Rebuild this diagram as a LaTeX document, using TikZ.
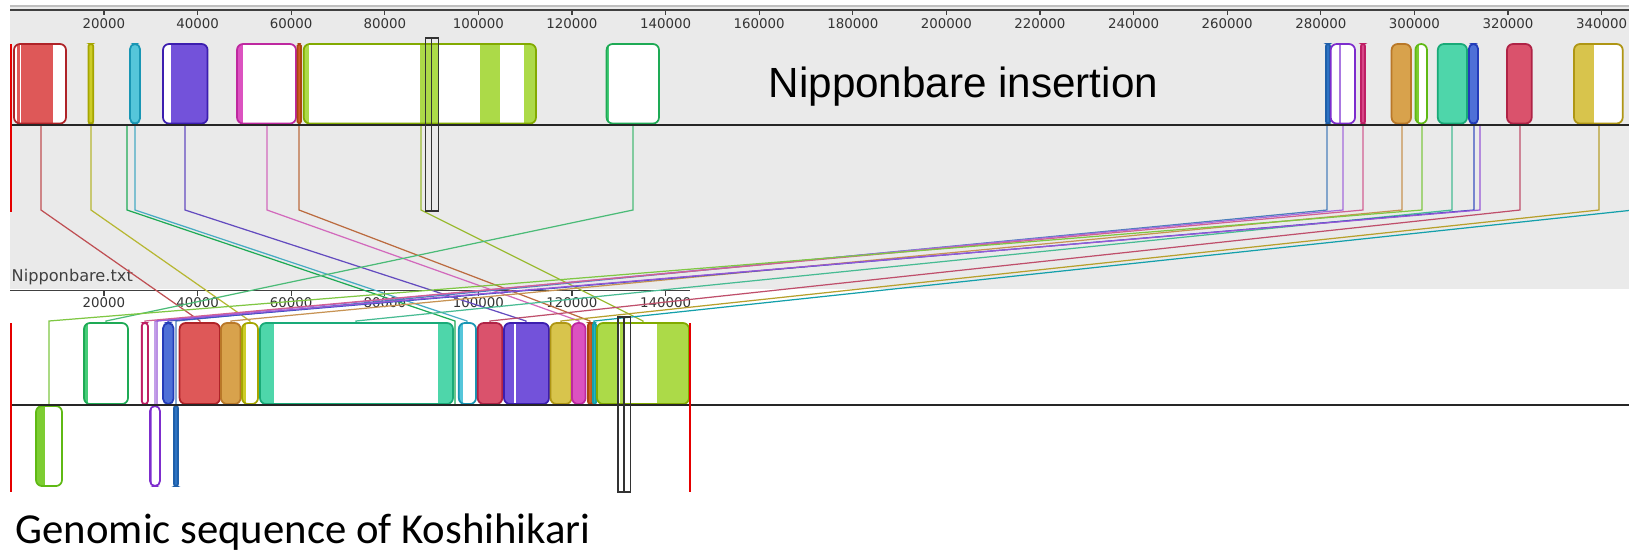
\documentclass[tikz,border=0pt]{standalone}
\usepackage{fontspec}
\usepackage{xcolor}
\usepackage{tikz}
\newfontfamily\labfont{Liberation Sans}
\newfontfamily\capfont{Carlito}
\newfontfamily\rulefont{DejaVu Sans}
\definecolor{bgpanel}{RGB}{234,234,234}
\definecolor{myred}{RGB}{175,35,40}      \definecolor{pkred}{RGB}{222,88,88}
\definecolor{myolive}{RGB}{165,165,0}    \definecolor{pkolive}{RGB}{205,205,40}
\definecolor{mycyan}{RGB}{25,150,180}    \definecolor{pkcyan}{RGB}{85,198,218}
\definecolor{mypurple}{RGB}{60,30,175}   \definecolor{pkpurple}{RGB}{115,82,218}
\definecolor{mymagenta}{RGB}{190,40,160} \definecolor{pkmagenta}{RGB}{220,82,192}
\definecolor{mybrown}{RGB}{170,70,15}    \definecolor{pkbrown}{RGB}{205,95,35}
\definecolor{mylime}{RGB}{130,170,0}     \definecolor{pklime}{RGB}{172,218,72}
\definecolor{mygreen}{RGB}{30,170,85}    \definecolor{pkgreen}{RGB}{70,205,120}
\definecolor{mysteel}{RGB}{30,95,170}    \definecolor{pksteel}{RGB}{45,115,195}
\definecolor{myviolet}{RGB}{125,45,205}  \definecolor{pkviolet}{RGB}{170,120,225}
\definecolor{mycrimson}{RGB}{190,30,100} \definecolor{pkcrimson}{RGB}{215,70,135}
\definecolor{myorange}{RGB}{185,120,40}  \definecolor{pkorange}{RGB}{216,162,76}
\definecolor{mygrass}{RGB}{95,185,20}    \definecolor{pkgrass}{RGB}{125,205,50}
\definecolor{myteal}{RGB}{25,170,120}    \definecolor{pkteal}{RGB}{78,214,170}
\definecolor{myblue}{RGB}{35,60,185}     \definecolor{pkblue}{RGB}{78,112,215}
\definecolor{myrose}{RGB}{175,35,70}     \definecolor{pkrose}{RGB}{218,82,108}
\definecolor{mygold}{RGB}{175,150,20}    \definecolor{pkgold}{RGB}{216,196,76}
\definecolor{myaqua}{RGB}{20,160,170}    \definecolor{pkaqua}{RGB}{40,180,190}
\tikzset{
  conn/.style={line width=0.35pt},
  axisline/.style={line width=0.55pt, color=black!85},
  ruler/.style={line width=0.35pt, color=black!75},
  ticklabel/.style={font=\rulefont\fontsize{3.8}{4.5}\selectfont, text=black!80,
    inner sep=0pt, anchor=base},
  marker/.style={line width=0.4pt, color=black!80},
  redmark/.style={line width=0.4pt, color=red!90!black}
}
% block: x1, x2, y1, y2, border, profile colour, profile ranges
\newcommand{\lcb}[7]{%
  \pgfmathsetmacro{\rad}{min(6,(#2-#1)/2)*0.2845}
  \fill[white, rounded corners=\rad pt] (#1,#3) rectangle (#2,#4);
  \begin{scope}
    \clip[rounded corners=\rad pt] (#1,#3) rectangle (#2,#4);
    \foreach \pa/\pb in {#7} {\fill[#6] (\pa,#3) rectangle (\pb,#4);}
  \end{scope}
  \draw[#5, line width=0.5pt, rounded corners=\rad pt] (#1,#3) rectangle (#2,#4);
}

\begin{document}
\begin{tikzpicture}[x=0.01cm, y=-0.01cm]
  \useasboundingbox (0,0) rectangle (1629,551);
  % Panels
  \fill[white] (0,0) rectangle (1629,551);
  \fill[bgpanel] (10,6) rectangle (1629,289);
  \draw[black!25, line width=0.6pt] (10,6) -- (1629,6);

  % Rulers
  \draw[ruler] (10,10) -- (1629,10);
  \foreach \k in {1,...,17} {
    \pgfmathtruncatemacro{\lab}{2*\k}
    \draw[ruler] (10.4+93.6*\k,10) -- ++(0,5);
    \node[ticklabel] at (10.4+93.6*\k,28) {\lab0000};
  }
  \draw[ruler] (10,290.7) -- (690,290.7);
  \foreach \k in {1,...,7} {
    \pgfmathtruncatemacro{\lab}{2*\k}
    \draw[ruler] (10.4+93.6*\k,290.7) -- ++(0,5);
    \node[ticklabel] at (10.4+93.6*\k,307) {\lab0000};
  }
  \node[ticklabel, anchor=base west, text=black!75, font=\rulefont\fontsize{4.6}{5}\selectfont]
    at (11,281) {Nipponbare.txt};

  % Connectors
  \draw[conn, myred!80!white]     (41,125)   -- (41,210)   -- (200,321) -- (200,405);
  \draw[conn, myolive!80!white]   (91,125)   -- (91,210)   -- (250,321) -- (250,405);
  \draw[conn, mygreen]            (127,125)  -- (127,210)  -- (455,321) -- (455,405);
  \draw[conn, mycyan!80!white]    (135,125)  -- (135,210)  -- (467,321) -- (467,405);
  \draw[conn, mypurple!80!white]  (185,125)  -- (185,210)  -- (526,321) -- (526,405);
  \draw[conn, mymagenta!70!white] (267,125)  -- (267,210)  -- (579,321) -- (579,405);
  \draw[conn, mybrown!80!white]   (299,125)  -- (299,210)  -- (590,321) -- (590,405);
  \draw[conn, mylime!80!white]    (421,125)  -- (421,210)  -- (643,321) -- (643,405);
  \draw[conn, mygreen!80!white]   (633,125)  -- (633,210)  -- (106,321) -- (106,405);
  \draw[conn, mysteel!80!white]   (1327,125) -- (1327,210) -- (176,321) -- (176,405);
  \draw[conn, myviolet!70!white]  (1343,125) -- (1343,210) -- (155,321) -- (155,405);
  \draw[conn, mycrimson!70!white] (1363,125) -- (1363,210) -- (145,321) -- (145,405);
  \draw[conn, myorange!80!white]  (1402,125) -- (1402,210) -- (231,321) -- (231,405);
  \draw[conn, mygrass!80!white]   (1422,125) -- (1422,210) -- (49,321)  -- (49,405);
  \draw[conn, myteal!80!white]    (1452,125) -- (1452,210) -- (356,321) -- (356,405);
  \draw[conn, myblue!90!white]    (1474,125) -- (1474,210) -- (168,321) -- (168,405);
  \draw[conn, myviolet!80!white]  (1480,125) -- (1480,210) -- (157,321) -- (157,405);
  \draw[conn, myrose!80!white]    (1520,125) -- (1520,210) -- (490,321) -- (490,405);
  \draw[conn, mygold!90!white]    (1599,125) -- (1599,210) -- (561,321) -- (561,405);
  \draw[conn, myaqua]             (1629,210.5) -- (594,321) -- (594,405);

  % Nipponbare blocks
  \lcb{14}{66}{44}{123.5}{myred}{pkred}{17/19.5, 21/52.5}
  \lcb{88.4}{93.3}{44}{123.5}{myolive}{pkolive}{88/94}
  \lcb{130}{140}{44}{123.5}{mycyan}{pkcyan}{130/140}
  \lcb{163}{207.6}{44}{123.5}{mypurple}{pkpurple}{171/208}
  \lcb{237}{296}{44}{123.5}{mymagenta}{pkmagenta}{237/243}
  \lcb{297.5}{301}{44}{123.5}{mybrown}{pkbrown}{297/302}
  \lcb{303.7}{536}{44}{123.5}{mylime}{pklime}{304/309, 420/438, 480/500, 524/536}
  \lcb{606.6}{659}{44}{123.5}{mygreen}{pkgreen}{607/609}
  \lcb{1326}{1330}{44}{123.5}{mysteel}{pksteel}{1326/1330}
  \lcb{1330.7}{1355}{44}{123.5}{myviolet}{pkviolet}{1339/1340.5}
  \lcb{1361}{1365}{44}{123.5}{mycrimson}{pkcrimson}{1361/1365}
  \lcb{1391.6}{1411}{44}{123.5}{myorange}{pkorange}{1391/1412}
  \lcb{1415.4}{1427}{44}{123.5}{mygrass}{pkgrass}{1416/1419}
  \lcb{1437.8}{1467}{44}{123.5}{myteal}{pkteal}{1437/1468}
  \lcb{1469}{1478}{44}{123.5}{myblue}{pkblue}{1469/1478}
  \lcb{1507}{1531.7}{44}{123.5}{myrose}{pkrose}{1507/1532}
  \lcb{1574}{1622.7}{44}{123.5}{mygold}{pkgold}{1574/1594}
  \draw[axisline] (10,125) -- (1629,125);

  % Koshihikari blocks
  \lcb{84}{128}{323}{404}{mygreen}{pkgreen}{85/88}
  \lcb{141.7}{148}{323}{404}{mycrimson}{pkcrimson}{142/143}
  \lcb{163}{173.6}{323}{404}{myblue}{pkblue}{163/174}
  \lcb{179.6}{220}{323}{404}{myred}{pkred}{179/221}
  \lcb{221}{240.6}{323}{404}{myorange}{pkorange}{221/241}
  \lcb{242}{258}{323}{404}{myolive}{pkolive}{243/246}
  \lcb{260}{453}{323}{404}{myteal}{pkteal}{260/274, 438/453}
  \lcb{458.8}{476}{323}{404}{mycyan}{pkcyan}{459/463}
  \lcb{477.7}{502.3}{323}{404}{myrose}{pkrose}{477/503}
  \lcb{504}{549}{323}{404}{mypurple}{pkpurple}{504/514, 516/549}
  \lcb{550.5}{571.6}{323}{404}{mygold}{pkgold}{550/572}
  \lcb{572}{585.6}{323}{404}{mymagenta}{pkmagenta}{572/586}
  \lcb{588}{592.6}{323}{404}{mybrown}{pkbrown}{588/593}
  \lcb{593}{596}{323}{404}{myaqua}{pkaqua}{593/596}
  \lcb{597}{689}{323}{404}{mylime}{pklime}{598/617, 620/624, 657/688}
  \lcb{36}{62}{406}{486}{mygrass}{pkgrass}{37/45}
  \lcb{150}{160}{406}{486}{myviolet}{pkviolet}{151/152}
  \lcb{174}{178}{406}{486}{mysteel}{pksteel}{174/178}
  \draw[axisline] (10,405) -- (1629,405);

  % Marks
  \draw[redmark] (11,44) -- (11,212);
  \draw[redmark] (11,323) -- (11,492);
  \draw[redmark] (690,323) -- (690,492);
  \draw[marker] (425.5,38) rectangle (438.4,211);
  \draw[marker] (431.4,38) -- (431.4,211);
  \draw[marker] (618,317) rectangle (630.5,492);
  \draw[marker] (624,317) -- (624,492);

  % Captions
  \node[anchor=base west, inner sep=0pt, font=\labfont\fontsize{12}{14}\selectfont]
    at (768,97) {Nipponbare insertion};
  \node[anchor=base west, inner sep=0pt, font=\capfont\fontsize{12.15}{14}\selectfont]
    at (15,543) {Genomic sequence of Koshihikari};
\end{tikzpicture}
\end{document}
